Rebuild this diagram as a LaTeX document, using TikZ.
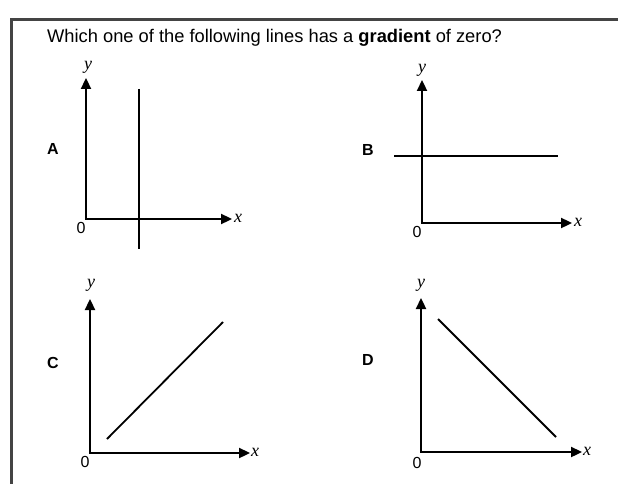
\documentclass[tikz,border=0pt]{standalone}
\usepackage{fontspec}
\setmainfont{Liberation Sans}
\newfontfamily\serifit{Liberation Serif}
\usetikzlibrary{arrows.meta}
\tikzset{
  axis/.style={line width=2.3pt,{Triangle[length=11pt,width=10pt]}-{Triangle[length=11pt,width=10pt]}, line join=miter},
  gline/.style={line width=1.8pt},
  frame/.style={line width=3pt,draw={rgb,255:red,68;green,68;blue,68}},
  axlbl/.style={font=\serifit\itshape\fontsize{18}{18}\selectfont, inner sep=0pt},
  zero/.style={font=\fontsize{16}{16}\selectfont, inner sep=0pt},
  letter/.style={font=\bfseries\fontsize{16}{16}\selectfont, inner sep=0pt},
}
\begin{document}
\begin{tikzpicture}[x=1pt,y=-1pt]
\useasboundingbox (0,0) rectangle (618,484);
% frame
\coordinate (fb) at (11,486);
\coordinate (fc) at (11,20);
\coordinate (fr) at (620,20);
\draw[frame] (fb) -- (fc) -- (fr);
\node[anchor=base west, inner sep=0pt, font=\fontsize{18.3}{18.3}\selectfont] (title) at (47,43) {Which one of the following lines has a \textbf{gradient} of zero?};

% Graph A
\coordinate (Ao) at (86,219);
\coordinate (Ay) at (86,78);
\coordinate (Ax) at (232,219);
\draw[axis] (Ay) -- (Ao) -- (Ax);
\node[axlbl] (Aylbl) at (88,67) {y};
\node[axlbl, anchor=west] (Axlbl) at (234,218) {x};
\node[zero] (Azero) at (81,228) {0};
\node[letter] (Alet) at (53,149) {A};
\coordinate (A1) at (139,89);
\coordinate (A2) at (139,249);
\draw[gline] (A1) -- (A2);

% Graph B
\coordinate (Bo) at (422,223);
\coordinate (By) at (422,80);
\coordinate (Bx) at (572,223);
\draw[axis] (By) -- (Bo) -- (Bx);
\node[axlbl] (Bylbl) at (422,70) {y};
\node[axlbl, anchor=west] (Bxlbl) at (574,222) {x};
\node[zero] (Bzero) at (417,232) {0};
\node[letter] (Blet) at (368,150) {B};
\coordinate (B1) at (394,156);
\coordinate (B2) at (558,156);
\draw[gline] (B1) -- (B2);

% Graph C
\coordinate (Co) at (90,453);
\coordinate (Cy) at (90,299);
\coordinate (Cx) at (250,453);
\draw[axis] (Cy) -- (Co) -- (Cx);
\node[axlbl] (Cylbl) at (91,285) {y};
\node[axlbl, anchor=west] (Cxlbl) at (251,452) {x};
\node[zero] (Czero) at (85,462) {0};
\node[letter] (Clet) at (53,363) {C};
\coordinate (C1) at (107,439);
\coordinate (C2) at (223,322);
\draw[gline] (C1) -- (C2);

% Graph D
\coordinate (Do) at (421,452);
\coordinate (Dy) at (421,298);
\coordinate (Dx) at (582,452);
\draw[axis] (Dy) -- (Do) -- (Dx);
\node[axlbl] (Dylbl) at (421,285) {y};
\node[axlbl, anchor=west] (Dxlbl) at (583,451) {x};
\node[zero] (Dzero) at (417,463) {0};
\node[letter] (Dlet) at (368,360) {D};
\coordinate (D1) at (438,319);
\coordinate (D2) at (556,437);
\draw[gline] (D1) -- (D2);
\end{tikzpicture}
\end{document}
